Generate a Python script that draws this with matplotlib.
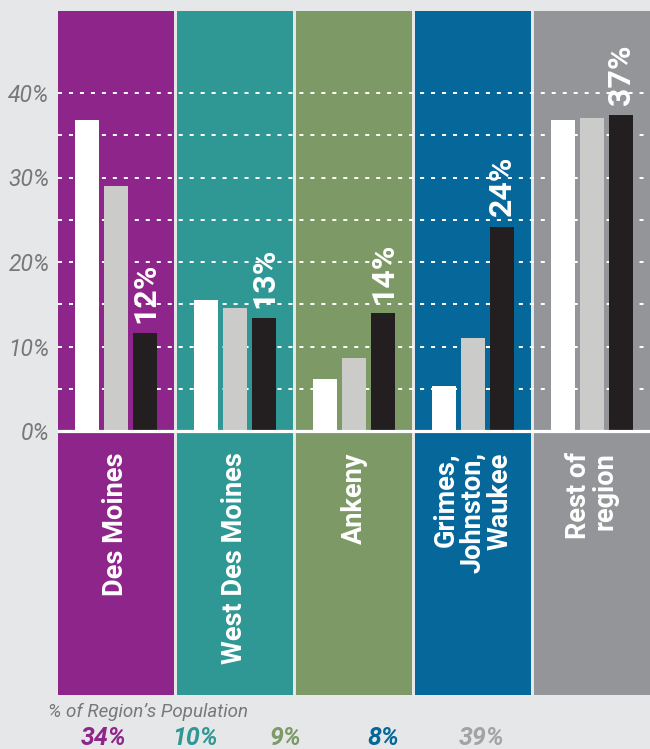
import matplotlib
matplotlib.use("Agg")
import matplotlib.pyplot as plt
import numpy as np

plt.rcParams['font.family'] = ['Roboto', 'DejaVu Sans']
plt.rcParams['lines.scale_dashes'] = False

# data
categories = ['Des Moines', 'West Des Moines', 'Ankeny',
              'Grimes,\nJohnston,\nWaukee', 'Rest of\nregion']
series_light = [36.8, 15.5, 6.2, 5.3, 36.8]
series_mid = [29.0, 14.5, 8.6, 11.0, 37.1]
series_dark = [11.6, 13.4, 14.0, 24.2, 37.4]
dark_labels = ['12%', '13%', '14%', '24%', '37%']
population = ['34%', '10%', '9%', '8%', '39%']
yticks = [0, 10, 20, 30, 40]
ytick_labels = ['0%', '10%', '20%', '30%', '40%']
gridlines = [5, 10, 15, 20, 25, 30, 35, 40]

col_colors = ['#8e258b', '#2f9895', '#7d9966', '#06679b', '#939598']
num_colors = ['#8e258b', '#2f9895', '#7d9966', '#06679b', '#a2a3a6']
bar_colors = ['#ffffff', '#cbcbc9', '#231f20']
bg = '#e6e7e8'

W, H = 650, 749
fig = plt.figure(figsize=(W/100, H/100), dpi=100)
fig.patch.set_facecolor(bg)

ax_left, ax_right, ax_top, ax_bot = 58, 650, 11, 695
ax = fig.add_axes([ax_left/W, 1-ax_bot/H, (ax_right-ax_left)/W, (ax_bot-ax_top)/H])
ax.set_facecolor(bg)

px_per_unit = 8.45   # pixels per 1%
y_zero = 431
ax.set_ylim((y_zero-ax_bot)/px_per_unit, (y_zero-ax_top)/px_per_unit)
ymin, ymax = ax.get_ylim()

pitch = 119.0
col_w = 116/pitch
ax.set_xlim(-0.5, -0.5 + (ax_right-ax_left)/pitch)

x = np.arange(len(categories))
centers = x - 0.5 + col_w/2

# column backgrounds
ax.bar(centers, ymax-ymin, bottom=ymin, width=col_w, color=col_colors, zorder=1)

# dashed grid
for g in gridlines:
    ax.axhline(g, color='white', lw=1.44, dashes=(2.9, 5.0), zorder=2)

# bars
step = 29/pitch
bw = 24/pitch
for k, vals in enumerate([series_light, series_mid, series_dark]):
    ax.bar(centers + (k-1)*step, vals, width=bw, color=bar_colors[k], zorder=3)

ax.axhline(0, color='white', lw=2.3, zorder=4)

# value labels on dark bars
for c, v, lab in zip(centers, series_dark, dark_labels):
    ax.text(c + step, v + 1.2, lab, rotation=90, rotation_mode='anchor',
            ha='left', va='center', color='white', fontsize=23,
            fontweight='bold', zorder=5)

# category labels
for c, cat in zip(centers, categories):
    ax.text(c, -2.5, cat, rotation=90, rotation_mode='anchor',
            ha='right', va='center', multialignment='right',
            color='white', fontsize=19.5, fontweight='bold',
            linespacing=1.0, zorder=5)

ax.set_xticks([])
ax.set_yticks(yticks)
ax.set_yticklabels(ytick_labels, fontsize=16.5, style='italic',
                   fontweight='normal', color='#77787b')
ax.tick_params(axis='y', length=0, pad=6)
for s in ax.spines.values():
    s.set_visible(False)

# population row
fig.text(48/W, 1-712/H, '% of Region\u2019s Population', ha='left', va='center',
         fontsize=13.5, style='italic', fontweight='normal', color='#77787b')
num_x = [104, 194.5, 285, 383, 482]
for nx, p, col in zip(num_x, population, num_colors):
    fig.text(nx/W, 1-738/H, p, ha='center', va='center', fontsize=18,
             style='italic', fontweight='bold', color=col)

fig.savefig('out.png', dpi=100, facecolor=bg)
